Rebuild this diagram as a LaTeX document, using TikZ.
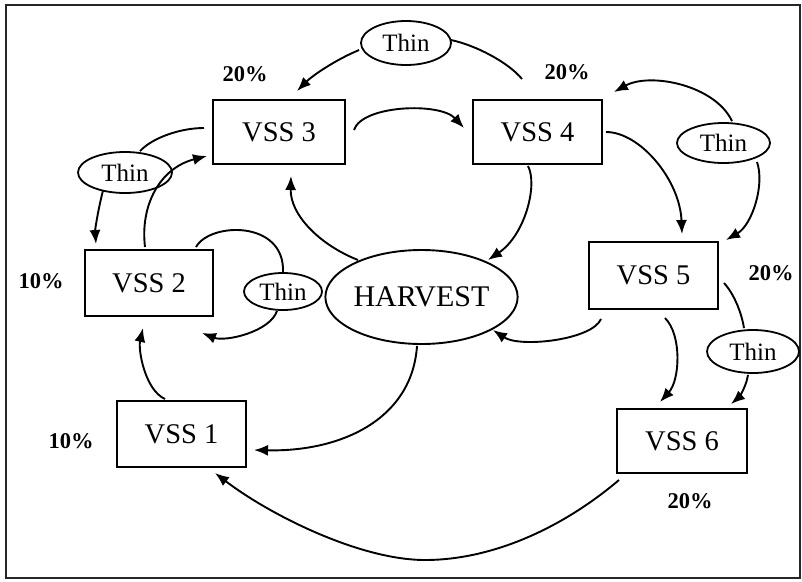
\documentclass[tikz,border=0pt]{standalone}
\usepackage{fontspec}
\setmainfont{Liberation Serif}
\usetikzlibrary{shapes.geometric,arrows.meta,calc}
\begin{document}
\begin{tikzpicture}[x=1pt,y=-1pt,
  box/.style={draw, rectangle, line width=2pt, inner sep=0pt, font=\fontsize{28.5}{30}\selectfont},
  thinnode/.style={draw, ellipse, line width=1.8pt, inner sep=0pt, font=\fontsize{25}{27}\selectfont},
  harv/.style={draw, ellipse, line width=1.9pt, inner sep=0pt, font=\fontsize{30}{32}\selectfont},
  pct/.style={inner sep=0pt, font=\bfseries\fontsize{22.5}{24}\selectfont},
  flow/.style={line width=1.9pt, -{Latex[length=14pt,width=11pt]}},
  link/.style={line width=1.9pt},
]
\useasboundingbox (0,0) rectangle (802,581);
\draw[line width=2.5pt, black!85] (6,5) rectangle (800,578);

% main boxes
\node[box, minimum width=132pt, minimum height=64pt] (v3) at (279,132) {VSS 3};
\node[box, minimum width=129pt, minimum height=64pt] (v4) at (537.5,132) {VSS 4};
\node[box, minimum width=128pt, minimum height=66pt] (v2) at (149,283) {VSS 2};
\node[box, minimum width=129pt, minimum height=66pt] (v1) at (181.5,434) {VSS 1};
\node[box, minimum width=129pt, minimum height=67pt] (v5) at (653.5,275.5) {VSS 5};
\node[box, minimum width=130pt, minimum height=64pt] (v6) at (682,441) {VSS 6};
\node[harv, minimum width=169pt, minimum height=94pt] (harvest) at (421.5,297) {HARVEST};

% thin ellipses
\node[thinnode, minimum width=90pt, minimum height=44pt] (thinT) at (406,43) {Thin};
\node[thinnode, minimum width=94pt, minimum height=41pt] (thinL) at (125,172.5) {Thin};
\node[thinnode, minimum width=78pt, minimum height=37pt] (thinM) at (283,291.5) {Thin};
\node[thinnode, minimum width=93pt, minimum height=40pt] (thinRT) at (723.5,143) {Thin};
\node[thinnode, minimum width=92pt, minimum height=43pt] (thinRB) at (753,351.5) {Thin};

% percentages
\node[pct] (p3) at (245,74) {20\%};
\node[pct] (p4) at (567,72) {20\%};
\node[pct] (p2) at (41,281) {10\%};
\node[pct] (p5) at (771,273) {20\%};
\node[pct] (p1) at (71,441) {10\%};
\node[pct] (p6) at (690,501) {20\%};

% VSS4 -> Thin -> VSS3
\draw[link] ($(v4.north)+(-15.5,-20)$) .. controls (508,62) and (475,45) .. ($(thinT.east)+(-1,-3)$);
\draw[flow] ($(thinT.west)+(-1,7)$) .. controls (335,60) and (312,76) .. ($(v3.north)+(18,-8)$);

% VSS3 -> VSS4
\draw[flow] ($(v3.east)+(8,-2)$) .. controls (362,105) and (440,102) .. ($(v4.west)+(-8,-4)$);

% VSS4 -> HARVEST
\draw[flow] ($(v4.south)+(-9.5,1)$) .. controls (538,185) and (525,235) .. ($(harvest.center)+(66.5,-37)$);

% HARVEST -> VSS3
\draw[flow] ($(harvest.center)+(-63.5,-37)$) .. controls (320,245) and (290,215) .. ($(v3.south)+(12,11)$);

% VSS4 -> VSS5
\draw[flow] ($(v4.east)+(3,0)$) .. controls (640,132) and (680,180) .. ($(v5.north)+(28.5,-7)$);

% Thin (right top) -> VSS4 and -> VSS5
\draw[flow] ($(thinRT.north)+(8.5,-1)$) .. controls (715,85) and (650,72) .. ($(v4.north east)+(11,-7)$);
\draw[flow] ($(thinRT.center)+(33.5,19)$) .. controls (765,185) and (752,225) .. ($(v5.north east)+(7,-1)$);

% VSS5 -> HARVEST
\draw[flow] ($(v5.south west)+(13,9)$) .. controls (592,340) and (520,348) .. ($(harvest.center)+(71.5,33)$);

% VSS5 -> VSS6
\draw[flow] ($(v5.south)+(11.5,8)$) .. controls (682,335) and (680,380) .. ($(v6.north)+(-22,-6)$);

% VSS5 -> Thin -> VSS6
\draw[link] ($(v5.east)+(5,7.5)$) .. controls (735,295) and (742,315) .. ($(thinRB.north)+(-9,-1)$);
\draw[flow] ($(thinRB.south)+(-5,1)$) .. controls (746,388) and (738,398) .. ($(v6.north)+(49,-4)$);

% VSS6 -> VSS1
\draw[flow] ($(v6.south west)+(3,6)$) .. controls (560,530) and (490,560) .. (425,560)
  .. controls (360,560) and (270,515) .. ($(v1.south)+(33.5,5)$);

% HARVEST -> VSS1
\draw[flow] ($(harvest.south)+(-4.5,1)$) .. controls (412,420) and (340,452) .. ($(v1.east)+(7,16)$);

% VSS1 -> VSS2
\draw[flow] ($(v1.north)+(-16.5,-1)$) .. controls (145,390) and (138,350) .. ($(v2.south)+(-6,11)$);

% VSS2 -> VSS3
\draw[flow] ($(v2.north)+(-4,-2)$) .. controls (140,205) and (160,168) .. ($(v3.south west)+(-5,-9)$);

% VSS3 -> Thin -> VSS2
\draw[link] ($(v3.west)+(-8,-4)$) .. controls (180,128) and (152,138) .. ($(thinL.north)+(15,0)$);
\draw[flow] ($(thinL.center)+(-22,18)$) .. controls (98,210) and (95,230) .. ($(v2.north west)+(12,-5)$);

% VSS2 -> Thin -> VSS2
\draw[link] ($(v2.north east)+(-18,-2)$) .. controls (210,222) and (285,220) .. (thinM.north);
\draw[flow] ($(thinM.south)+(-6,0)$) .. controls (270,332) and (225,342) .. ($(v2.south east)+(-12,16)$);
\end{tikzpicture}
\end{document}
